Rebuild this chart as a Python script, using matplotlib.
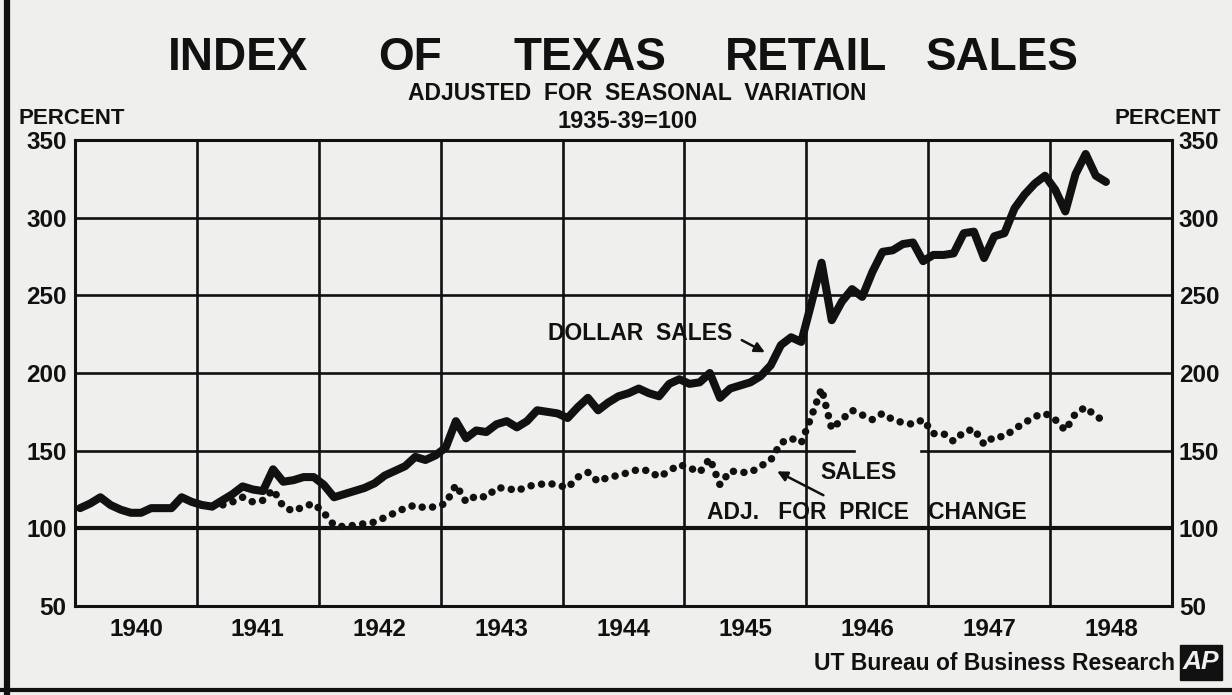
import matplotlib
matplotlib.use("Agg")
import matplotlib.pyplot as plt
import numpy as np
from matplotlib.patches import Rectangle
from matplotlib.lines import Line2D

# ---- data (monthly index, 1935-39 = 100) ----
years = [1940, 1941, 1942, 1943, 1944, 1945, 1946, 1947, 1948]

dollar_sales = [
    113, 116, 120, 115, 112, 110, 110, 113, 113, 113, 120, 117,   # 1940
    115, 114, 118, 122, 127, 125, 124, 138, 130, 131, 133, 133,   # 1941
    128, 120, 122, 124, 126, 129, 134, 137, 140, 146, 144, 147,   # 1942
    152, 169, 158, 163, 162, 167, 169, 165, 169, 176, 175, 174,   # 1943
    171, 178, 184, 176, 181, 185, 187, 190, 187, 185, 193, 196,   # 1944
    193, 194, 200, 184, 190, 192, 194, 198, 205, 218, 223, 220,   # 1945
    245, 271, 234, 246, 254, 249, 265, 278, 279, 283, 284, 272,   # 1946
    276, 276, 277, 290, 291, 274, 288, 290, 306, 315, 322, 327,   # 1947
    318, 304, 328, 341, 327, 323,                                 # 1948
]

adj_sales = [
    115, 114, 115, 117, 120, 117, 118, 125, 114, 111, 114, 116,   # 1941
    110, 102, 101, 102, 103, 104, 107, 110, 113, 115, 113, 114,   # 1942
    116, 128, 117, 121, 120, 126, 126, 124, 127, 128, 129, 128,   # 1943
    126, 133, 136, 130, 133, 134, 136, 138, 137, 133, 137, 141,   # 1944
    139, 136, 145, 128, 137, 136, 136, 140, 144, 155, 158, 155,   # 1945
    172, 190, 164, 170, 176, 173, 170, 174, 170, 168, 167, 170,   # 1946
    161, 161, 156, 162, 164, 154, 159, 159, 164, 168, 172, 174,   # 1947
    170, 163, 174, 178, 172, 169,                                 # 1948
]

y_ticks = [50, 100, 150, 200, 250, 300, 350]
year_labels = ["1940", "1941", "1942", "1943", "1944", "1945", "1946", "1947", "1948"]

# ---- style ----
FONT = "Liberation Sans"
BG = "#efefed"
INK = "#111111"

fig = plt.figure(figsize=(12.32, 6.95), dpi=100, facecolor=BG)
ax = fig.add_axes([75 / 1232, 1 - 606 / 695, (1172 - 75) / 1232, (606 - 140) / 695])
ax.set_facecolor(BG)

x_dollar = 1940 + (np.arange(len(dollar_sales)) + 0.5) / 12
x_adj = 1941 + (np.arange(len(adj_sales)) + 0.5) / 12

ax.set_xlim(1940, 1949)
ax.set_ylim(50, 350)

# grid
for yv in [150, 200, 250, 300]:
    if yv == 150:
        ax.plot([1940, 1946.39], [yv, yv], color=INK, lw=1.9, zorder=1)
        ax.plot([1946.94, 1949], [yv, yv], color=INK, lw=1.9, zorder=1)
    else:
        ax.axhline(yv, color=INK, lw=1.9, zorder=1)
ax.axhline(100, color=INK, lw=3.0, zorder=1)
for yr in years[1:]:
    ax.axvline(yr, color=INK, lw=1.9, zorder=1)

# series
ax.plot(x_dollar, dollar_sales, color=INK, lw=5.8, solid_joinstyle="round",
        solid_capstyle="round", zorder=3)
ax.plot(x_adj, adj_sales, color=INK, lw=5.4, linestyle=(0, (0.01, 1.4)),
        dash_capstyle="round", zorder=3)

# axes frame
for s in ax.spines.values():
    s.set_linewidth(2.2)
    s.set_color(INK)

ax.set_yticks(y_ticks)
ax.set_yticklabels([str(v) for v in y_ticks])
ax.tick_params(axis="y", length=0, pad=6, labelsize=17.5, labelcolor=INK)
ax.set_xticks(years)
ax.set_xticklabels([])
ax.set_xticks([y + 0.5 for y in years], minor=True)
ax.set_xticklabels(year_labels, minor=True)
ax.tick_params(axis="x", which="both", length=0, pad=9, labelsize=17.5, labelcolor=INK)
for lab in ax.get_yticklabels() + ax.get_xticklabels(minor=True):
    lab.set_fontfamily(FONT)
    lab.set_fontweight("bold")

ax2 = ax.twinx()
ax2.set_ylim(50, 350)
ax2.set_yticks(y_ticks)
ax2.set_yticklabels([str(v) for v in y_ticks])
ax2.tick_params(axis="y", length=0, pad=5, labelsize=17.5, labelcolor=INK)
for lab in ax2.get_yticklabels():
    lab.set_fontfamily(FONT)
    lab.set_fontweight("bold")
for s in ax2.spines.values():
    s.set_visible(False)

# annotations
ax.text(1944.64, 225.5, "DOLLAR  SALES", fontsize=16.5, fontweight="bold", family=FONT,
        ha="center", va="center", color=INK, zorder=4)
ax.annotate("", xy=(1945.68, 212.5), xytext=(1945.45, 222.0),
            arrowprops=dict(arrowstyle="-|>", color=INK, lw=1.8, mutation_scale=15))
ax.text(1946.43, 136.0, "SALES", fontsize=16.5, fontweight="bold", family=FONT,
        ha="center", va="center", color=INK, zorder=4)
ax.text(1946.5, 110.5, "ADJ.   FOR  PRICE   CHANGE", fontsize=16.5, fontweight="bold", family=FONT,
        ha="center", va="center", color=INK, zorder=4)
ax.annotate("", xy=(1945.74, 137.5), xytext=(1946.16, 120.5),
            arrowprops=dict(arrowstyle="-|>", color=INK, lw=1.8, mutation_scale=15))

# titles
def fx(px):
    return px / 1232

def fy(py):
    return 1 - py / 695

for word, cx in [("INDEX", 238), ("OF", 410), ("TEXAS", 590), ("RETAIL", 806), ("SALES", 1002)]:
    fig.text(fx(cx), fy(58), word, fontsize=33, fontweight="bold", family=FONT,
             ha="center", va="center", color=INK)
fig.text(fx(637), fy(94), "ADJUSTED  FOR  SEASONAL  VARIATION", fontsize=16.5, fontweight="bold",
         family=FONT, ha="center", va="center", color=INK)
fig.text(fx(628), fy(121), "1935-39=100", fontsize=17, fontweight="bold",
         family=FONT, ha="center", va="center", color=INK)
fig.text(fx(19), fy(119), "PERCENT", fontsize=16, fontweight="bold", family=FONT,
         ha="left", va="center", color=INK)
fig.text(fx(1221), fy(119), "PERCENT", fontsize=16, fontweight="bold", family=FONT,
         ha="right", va="center", color=INK)
fig.text(fx(1175), fy(664), "UT Bureau of Business Research", fontsize=16.5, fontweight="bold",
         family=FONT, ha="right", va="center", color=INK)

# AP logo box
fig.patches.append(Rectangle((fx(1180), fy(680)), fx(42), 35 / 695, transform=fig.transFigure,
                             facecolor=INK, edgecolor=INK, zorder=5))
fig.text(fx(1201), fy(662), "AP", fontsize=19, fontweight="bold", fontstyle="italic",
         family=FONT, ha="center", va="center", color=BG, zorder=6)

# scan border lines
fig.lines.append(Line2D([fx(7), fx(7)], [0, 1], transform=fig.transFigure, color=INK, lw=4.5))
fig.lines.append(Line2D([0, 1], [fy(690), fy(690)], transform=fig.transFigure, color=INK, lw=3))

fig.savefig("out.png", dpi=100, facecolor=BG)
